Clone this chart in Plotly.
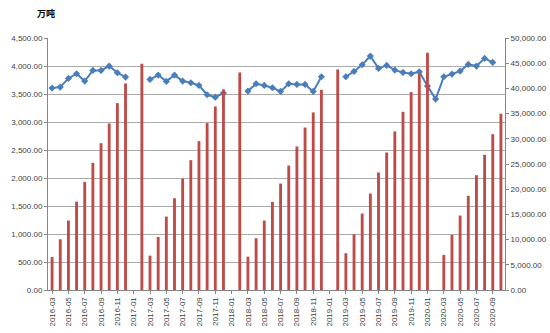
import plotly.graph_objects as go

# Categories: monthly, 2016-03 .. 2020-10
months = []
for y in range(2016, 2021):
    for m in range(1, 13):
        if (y == 2016 and m < 3) or (y == 2020 and m > 10):
            continue
        months.append(f"{y}-{m:02d}")

# Bars (right axis)
bar_vals = [
    6560, 10070, 13780, 17540, 21460, 25230, 29130, 33040, 37080, 40990,
    None, 44900, 6820, 10530, 14570, 18210, 22110, 25760, 29530, 33110, 36420, 39800,
    None, 43170, 6620, 10270, 13780, 17480, 21120, 24700, 28480, 32240, 35230, 39730,
    None, 43770, 7290, 11060, 15170, 19130, 23310, 27280, 31460, 35360, 39270, 42840,
    47080, None, 6960, 10920, 14770, 18680, 22780, 26820, 30920, 34970,
]

# Line (left axis)
line_vals = [
    3605, 3623, 3778, 3862, 3731, 3921, 3921, 3999, 3879, 3802,
    None, None, 3760, 3838, 3725, 3838, 3731, 3701, 3653, 3486, 3444, 3516,
    None, None, 3552, 3683, 3653, 3611, 3546, 3683, 3671, 3671, 3546, 3808,
    None, None, 3808, 3903, 4022, 4177, 3957, 4011, 3927, 3885, 3862, 3897,
    3641, 3409, 3808, 3856, 3909, 4028, 3999, 4136, 4064, None,
]

tick_labels = months[::2]

fig = go.Figure()
fig.add_trace(go.Bar(
    x=months, y=bar_vals, yaxis="y2",
    marker=dict(color="#BE4B48", line=dict(width=0)),
    showlegend=False,
))
fig.add_trace(go.Scatter(
    x=months, y=line_vals, yaxis="y",
    mode="lines+markers",
    line=dict(color="#4A7EBB", width=2),
    marker=dict(symbol="diamond", size=5.5, color="#4A7EBB"),
    connectgaps=False, showlegend=False,
))

axis_font = dict(family="Liberation Sans, Arial", size=8, color="#404040")

L, R, T, B = 48, 45, 38, 43
fig.update_layout(
    width=550, height=333,
    margin=dict(l=L, r=R, t=T, b=B),
    paper_bgcolor="white", plot_bgcolor="white",
    bargap=0.65,
    xaxis=dict(
        type="category", tickmode="array", tickvals=tick_labels, ticktext=tick_labels,
        tickangle=-90, tickfont=axis_font, showline=True, linecolor="#868686",
        ticks="outside", ticklen=3, tickcolor="#868686", showgrid=False,
        range=[-0.5, len(months) - 0.5], automargin=False,
    ),
    yaxis=dict(
        range=[0, 4500], dtick=500, tickformat=",.2f", tickfont=axis_font,
        showgrid=True, gridcolor="#ABABAB", gridwidth=1,
        showline=True, linecolor="#868686", ticks="outside", ticklen=3,
        tickcolor="#868686", zeroline=False, automargin=False,
    ),
    yaxis2=dict(
        range=[0, 50000], dtick=5000, tickformat=",.2f", tickfont=axis_font,
        overlaying="y", side="right", showgrid=False,
        showline=True, linecolor="#868686", ticks="outside", ticklen=3,
        tickcolor="#868686", zeroline=False, automargin=False,
    ),
    annotations=[dict(
        text="<b>万吨</b>",
        x=(35 - L) / (550 - L - R), y=1 + (T - 14) / (333 - T - B),
        xref="paper", yref="paper",
        showarrow=False, font=dict(family="Noto Sans CJK SC", size=9, color="#000000"),
        xanchor="left", yanchor="middle",
    )],
)

fig.write_html("out.html")
